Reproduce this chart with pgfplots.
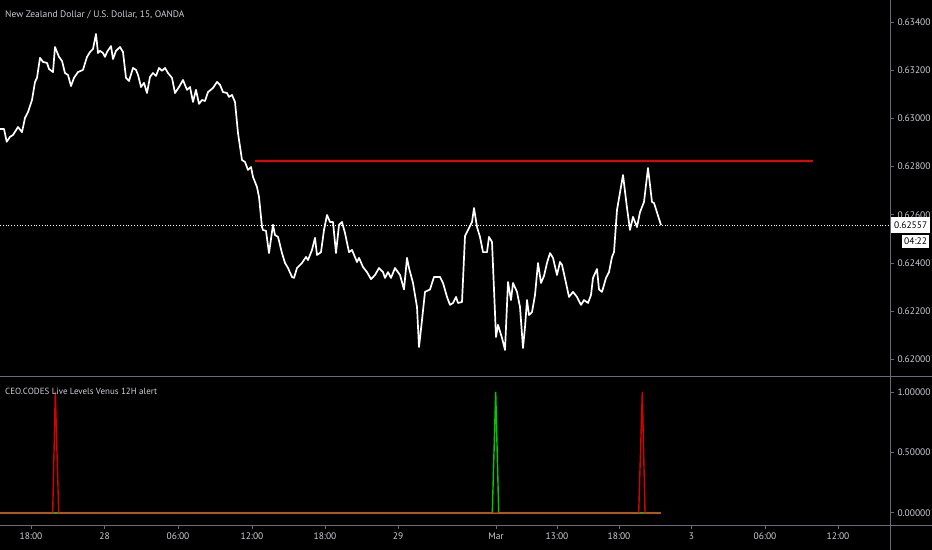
\documentclass[border=0pt]{standalone}
\usepackage{fontspec}
\setmainfont{PT Sans}
\usepackage{pgfplots}
\pgfplotsset{compat=1.18}

\definecolor{tvline}{RGB}{105,108,118}
\definecolor{tvtext}{RGB}{205,207,214}
\definecolor{lvlred}{RGB}{235,0,0}
\definecolor{spkred}{RGB}{215,0,0}
\definecolor{spkgreen}{RGB}{0,200,0}
\definecolor{baseorg}{RGB}{180,85,25}

\pgfplotsset{
  tvaxis/.style={
    scale only axis,
    axis line style={draw=none},
    xmin=0, xmax=890,
    tick align=outside,
    major tick length=4bp,
    tick style={tvline, line width=0.8bp},
    ticklabel style={font=\fontsize{9.5}{11}\selectfont, text=tvtext},
    /pgf/number format/assume math mode=true,
  },
}

\begin{document}
\begin{tikzpicture}[x=1bp,y=1bp]
\fill[black] (0,0) rectangle (932,-550);

% price panel
\begin{axis}[tvaxis,
  at={(0,-376bp)}, anchor=south west,
  width=890bp, height=376bp,
  ymin=0.61931, ymax=0.63491,
  xtick=\empty,
  ytick pos=right,
  ytick={0.620,0.622,0.624,0.626,0.628,0.630,0.632,0.634},
  yticklabels={0.62000,0.62200,0.62400,0.62600,0.62800,0.63000,0.63200,0.63400},
]
\addplot[white, dotted, line width=0.8bp] coordinates {(0,0.62557) (890,0.62557)};
\addplot[lvlred, line width=1.8bp] coordinates {(255,0.62822) (813,0.62822)};
\addplot[white, line width=1.7bp, line join=round] coordinates {
(0,0.62956) (4,0.62956) (6.7,0.62903) (10,0.62923) (13,0.62931) (18,0.62964)
(22,0.62943) (25,0.63002) (28,0.63026) (32,0.63076) (35,0.63151) (37,0.63168)
(40,0.63251) (43,0.63234) (47,0.63230) (49,0.63205) (53,0.63192) (55,0.63296)
(59,0.63255) (62,0.63238) (65,0.63188) (68,0.63180) (71,0.63134) (74,0.63168)
(78,0.63192) (83,0.63201) (87,0.63255) (90,0.63275) (93,0.63288) (96,0.63350)
(98,0.63271) (100,0.63280) (103,0.63271) (105,0.63255) (107,0.63275) (111,0.63300)
(113,0.63246) (116,0.63280) (120,0.63296) (123,0.63275) (126,0.63168) (129,0.63155)
(133,0.63209) (136,0.63201) (138,0.63180) (141,0.63130) (144,0.63147) (147,0.63105)
(150,0.63172) (153,0.63188) (156,0.63176) (159,0.63209) (162,0.63197) (165,0.63209)
(168,0.63188) (172,0.63168) (175,0.63105) (179,0.63130) (183,0.63159) (187,0.63118)
(190,0.63130) (193,0.63068) (196,0.63118) (199,0.63060) (202,0.63076) (205,0.63072)
(208,0.63109) (213,0.63126) (217,0.63151) (220,0.63139) (223,0.63109) (227,0.63105)
(229,0.63089) (232,0.63097) (235,0.63068) (238,0.62939) (242,0.62827) (245,0.62819)
(248,0.62786) (251,0.62798) (253,0.62757) (257,0.62715) (259,0.62674) (262,0.62549)
(263,0.62537) (266,0.62533) (269,0.62441) (273,0.62558) (275,0.62516) (278,0.62508)
(282,0.62441) (285,0.62400) (288,0.62379) (292,0.62342) (294,0.62338) (297,0.62379)
(302,0.62400) (306,0.62425) (308,0.62412) (312,0.62454) (315,0.62504) (317,0.62433)
(321,0.62445) (324,0.62537) (327,0.62599) (330,0.62570) (333,0.62570) (336,0.62441)
(339,0.62558) (342,0.62570) (345,0.62524) (349,0.62445) (352,0.62454) (357,0.62404)
(359,0.62421) (363,0.62383) (367,0.62362) (371,0.62333) (375,0.62350) (379,0.62379)
(383,0.62362) (385,0.62338) (388,0.62362) (391,0.62338) (395,0.62379) (400,0.62350)
(404,0.62290) (407,0.62421) (409,0.62379) (413,0.62317) (417,0.62217) (419,0.62051)
(422,0.62163) (425,0.62280) (430,0.62290) (434,0.62342) (440,0.62342) (443,0.62317)
(447,0.62259) (450,0.62226) (453,0.62234) (456,0.62259) (458,0.62234) (462,0.62238)
(465,0.62512) (468,0.62537) (472,0.62570) (474,0.62628) (477,0.62549) (480,0.62508)
(483,0.62445) (487,0.62445) (489,0.62508) (492,0.62487) (496,0.62093) (498,0.62143)
(502,0.62089) (505,0.62039) (508,0.62321) (511,0.62246) (513,0.62317) (517,0.62280)
(520,0.62217) (523,0.62047) (525,0.62134) (527,0.62246) (529,0.62184) (532,0.62196)
(535,0.62267) (538,0.62400) (541,0.62317) (544,0.62346) (547,0.62400) (550,0.62441)
(553,0.62421) (557,0.62350) (560,0.62404) (562,0.62392) (566,0.62317) (569,0.62259)
(573,0.62280) (577,0.62259) (581,0.62226) (584,0.62246) (588,0.62234) (591,0.62267)
(593,0.62338) (597,0.62375) (599,0.62290) (602,0.62280) (606,0.62338) (609,0.62362)
(612,0.62425) (614,0.62445) (617,0.62620) (623,0.62765) (627,0.62628) (630,0.62537)
(633,0.62591) (637,0.62549) (640,0.62611) (644,0.62653) (648,0.62794) (652,0.62653)
(654,0.62649) (661,0.62557)
};
\end{axis}

% indicator panel
\begin{axis}[tvaxis,
  at={(0,-525bp)}, anchor=south west,
  width=890bp, height=149bp,
  ymin=-0.1019, ymax=1.1326,
  ytick pos=right, xtick pos=bottom,
  ytick={0,0.5,1},
  yticklabels={0.00000,0.50000,1.00000},
  xtick={31,104.6,178,252,325,398,496,557,619,691.5,765,838},
  xticklabels={18:00,28,06:00,12:00,18:00,29,Mar,13:00,18:00,3,06:00,12:00},
]
\addplot[baseorg, line width=2bp] coordinates {(0,0) (661,0)};
\addplot[spkgreen, line width=1.5bp] coordinates {(53,0) (58.5,0)};
\addplot[spkgreen, line width=1.5bp] coordinates {(639,0) (645,0)};
\addplot[spkred, line width=1.5bp] coordinates {(492.5,0) (498.5,0)};
\addplot[spkred, line width=1.4bp] coordinates {(52.7,0) (55.3,1) (58.7,0)};
\addplot[spkred, line width=1.4bp] coordinates {(638.7,0) (642.3,1) (645,0)};
\addplot[spkgreen, line width=1.4bp] coordinates {(492.3,0) (495.7,1) (498.7,0)};
\end{axis}

% frame lines
\draw[tvline, line width=1bp] (0,-376) -- (932,-376);
\draw[tvline, line width=1bp] (0,-525) -- (932,-525);
\draw[tvline, line width=1bp] (890,0) -- (890,-550);

% titles
\node[anchor=west, inner sep=0pt, text=tvtext, font=\fontsize{9.5}{11}\selectfont] at (5,-15) {New Zealand Dollar / U.S. Dollar, 15, OANDA};
\node[anchor=west, inner sep=0pt, text=tvtext, font=\fontsize{9}{11}\selectfont] at (5,-391) {CEO.CODES Live Levels Venus 12H alert};

% last price labels
\node[anchor=west, fill=white, text=black, inner xsep=3bp, inner ysep=0pt, minimum height=16bp, font=\fontsize{9.5}{11}\selectfont] at (891,-225.5) {0.62557};
\node[anchor=west, fill=white, text=black, inner xsep=2bp, inner ysep=0pt, minimum height=13bp, font=\fontsize{9.5}{11}\selectfont] at (902,-241.5) {04:22};

\pgfresetboundingbox
\path[use as bounding box] (0,0) rectangle (932,-550);
\end{tikzpicture}
\end{document}
